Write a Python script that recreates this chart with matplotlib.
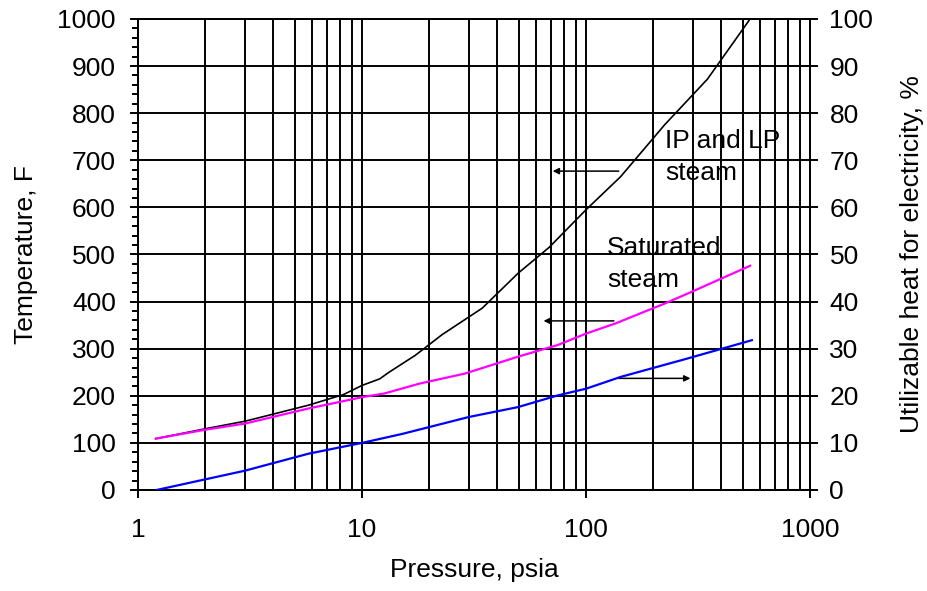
import numpy as np
import matplotlib.pyplot as plt
from matplotlib.ticker import FixedLocator, NullLocator, MultipleLocator

plt.rcParams['font.family'] = ['Liberation Sans', 'DejaVu Sans']

# IP and LP steam temperature, F (left axis)
ip_p = [1.2, 2, 3, 3.64, 5.76, 8.3, 10, 12, 13.2, 17.3, 22.8, 34.4, 49.7, 68.4,
        100, 142.6, 225, 348, 540]
ip_t = [109, 130, 146, 156, 180, 203, 222, 236, 250, 286, 330, 386, 460, 515,
        595, 665, 776, 872, 1000]

# saturated steam temperature, F (left axis)
sat_p = [1.2, 2, 3, 5.76, 10, 12.6, 18.1, 28.7, 49.7, 75, 100, 136, 225, 297, 540]
sat_t = [109, 128, 141, 173, 197, 205, 226, 247, 283, 308, 332, 354, 396, 421, 476]

# utilizable heat for electricity, % (right axis)
heat_p = [1.21, 3, 5.76, 10, 15.1, 30, 49.7, 75, 100, 142.6, 283, 550]
heat_pct = [0, 4.1, 7.7, 10, 11.9, 15.5, 17.6, 20.1, 21.5, 24, 27.9, 31.8]

fig = plt.figure(figsize=(9.27, 5.91), dpi=100)
ax = fig.add_axes([0.1489, 0.1709, 0.7249, 0.797])
ax2 = ax.twinx()

lw = 1.4
ax.set_xscale('log')
ax.set_xlim(1, 1000)
ax.set_ylim(0, 1000)
ax2.set_ylim(0, 100)

# grid
grid_x = [m * 10 ** d for d in range(3) for m in range(1, 10)] + [1000]
for gx in grid_x:
    ax.axvline(gx, color='black', lw=lw, zorder=1)
for gy in range(0, 1001, 100):
    ax.axhline(gy, color='black', lw=lw, zorder=1)

ax.plot(ip_p, ip_t, color='black', lw=1.2, zorder=3)
ax.plot(sat_p, sat_t, color='#ff00ff', lw=1.6, zorder=3)
ax2.plot(heat_p, heat_pct, color='#0000ff', lw=1.6, zorder=3)

# arrows pointing to the axis each curve belongs to
arr = dict(arrowstyle='-|>', color='black', lw=1.1, mutation_scale=9)
ax.annotate('', xy=(69, 677), xytext=(144, 677), arrowprops=arr)
ax.annotate('', xy=(62.8, 359), xytext=(137, 359), arrowprops=arr)
ax.annotate('', xy=(301, 237), xytext=(136, 237), arrowprops=arr)

fs = 19
ax.text(225, 767, 'IP and LP\nsteam', fontsize=fs, va='top', ha='left',
        linespacing=1.45)
ax.text(124, 540, 'Saturated\nsteam', fontsize=fs, va='top', ha='left',
        linespacing=1.45)

ax.xaxis.set_major_locator(FixedLocator([1, 10, 100, 1000]))
ax.xaxis.set_minor_locator(NullLocator())
ax.set_xticklabels(['1', '10', '100', '1000'])
ax.yaxis.set_major_locator(MultipleLocator(100))
ax.yaxis.set_minor_locator(MultipleLocator(20))
ax2.yaxis.set_major_locator(MultipleLocator(10))
ax2.yaxis.set_minor_locator(NullLocator())

ax.tick_params(axis='both', which='major', direction='out', length=6, width=lw,
               labelsize=fs, color='black')
ax.tick_params(axis='x', pad=14)
ax.tick_params(axis='y', pad=10)
ax.tick_params(axis='y', which='minor', direction='out', length=4, width=lw)
ax2.tick_params(axis='y', which='major', direction='out', length=6, width=lw,
                labelsize=fs, pad=8)

for a in (ax, ax2):
    for s in a.spines.values():
        s.set_linewidth(lw)
        s.set_color('black')

ax.set_xlabel('Pressure, psia', fontsize=fs, labelpad=12)
ax.set_ylabel('Temperature, F', fontsize=fs, labelpad=14)
ax2.set_ylabel('Utilizable heat for electricity, %', fontsize=fs, labelpad=19)

plt.savefig('out.png', dpi=100)
